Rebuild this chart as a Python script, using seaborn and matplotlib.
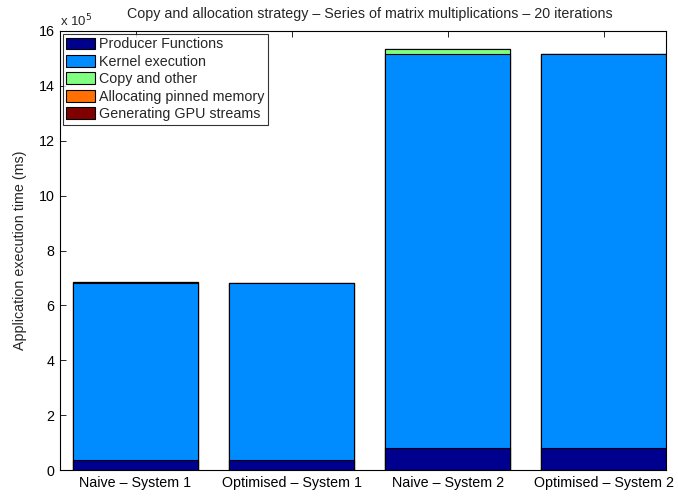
import numpy as np
import pandas as pd
import matplotlib
matplotlib.use("Agg")
import matplotlib.pyplot as plt
import seaborn as sns
from matplotlib.patches import Patch

sns.set_theme(style="white")
plt.rcParams["font.family"] = ["Liberation Sans", "DejaVu Sans"]

# Execution time per configuration, in units of 1e5 ms
configs = ["Naive \u2013 System 1", "Optimised \u2013 System 1",
           "Naive \u2013 System 2", "Optimised \u2013 System 2"]
producer = [0.35, 0.35, 0.79, 0.79]
kernel = [6.47, 6.45, 14.38, 14.36]
copy_other = [0.03, 0.01, 0.17, 0.01]
pinned = [0.004, 0.004, 0.004, 0.004]
streams = [0.002, 0.002, 0.002, 0.002]

series_names = ["Producer Functions", "Kernel execution", "Copy and other",
                "Allocating pinned memory", "Generating GPU streams"]
series_vals = [producer, kernel, copy_other, pinned, streams]
colors = ["#00008f", "#008cff", "#80ff80", "#ff7000", "#800000"]

FS = 10.3

fig = plt.figure(figsize=(6.78, 4.96), dpi=100)
ax = fig.add_axes([60 / 678, 26 / 496, 606 / 678, 439 / 496])

# Stacked bars: draw cumulative totals from the top segment down
cum = np.cumsum(np.array(series_vals), axis=0)
for i in range(len(series_names) - 1, -1, -1):
    df = pd.DataFrame({"config": configs, "value": cum[i]})
    sns.barplot(data=df, x="config", y="value", color=colors[i],
                saturation=1, width=0.8, edgecolor="black", linewidth=0.8,
                ax=ax, errorbar=None)

ax.set_xlim(-0.484, 3.4)
ax.set_ylim(0, 16)
ax.set_yticks(np.arange(0, 17, 2))
ax.set_yticklabels([str(v) for v in range(0, 17, 2)])
ax.set_xlabel("")
ax.set_ylabel("Application execution time (ms)", fontsize=FS, labelpad=8)
ax.tick_params(axis="both", direction="in", length=4, width=0.6,
               labelsize=FS, top=True, right=True, bottom=True, left=True,
               pad=4, colors="black")
for s in ax.spines.values():
    s.set_visible(True)
    s.set_color("black")
    s.set_linewidth(0.8)

ax.text(0.0, 1.004, r"x 10$^5$", transform=ax.transAxes, ha="left",
        va="bottom", fontsize=9.5)
fig.text(0.545, 0.971, "Copy and allocation strategy \u2013 Series of matrix "
         "multiplications \u2013 20 iterations", ha="center", va="center",
         fontsize=FS)

handles = [Patch(facecolor=c, edgecolor="black", linewidth=0.8) for c in colors]
leg = ax.legend(handles, series_names, loc="upper left",
                bbox_to_anchor=(0.0, 1.0), fontsize=FS, frameon=True,
                fancybox=False, borderpad=0.25, labelspacing=0.24,
                handlelength=2.0, handleheight=0.9, handletextpad=0.26,
                borderaxespad=0.2)
leg.get_frame().set_edgecolor("black")
leg.get_frame().set_linewidth(0.8)

fig.savefig("out.png", dpi=100)
